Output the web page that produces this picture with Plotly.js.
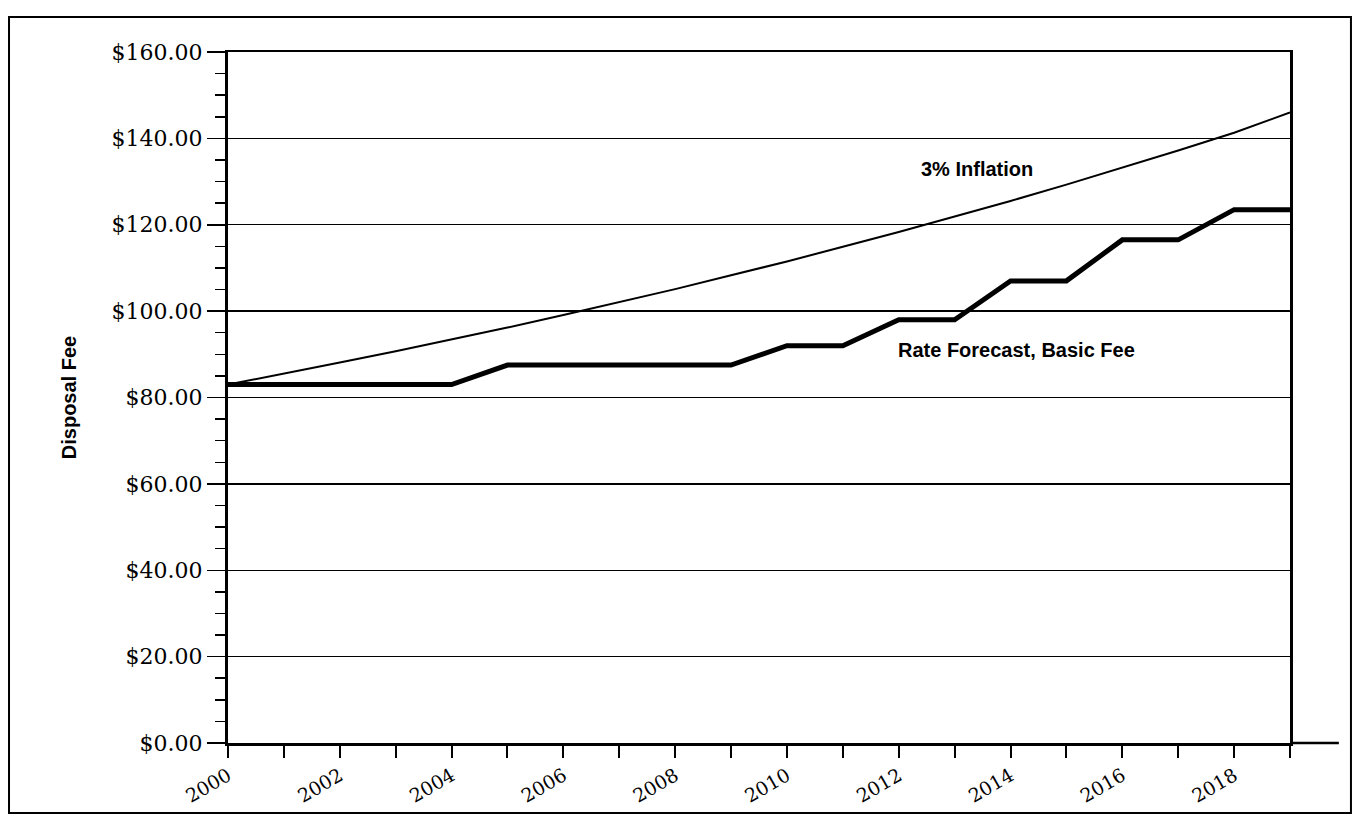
<!DOCTYPE html>
<html>
<head>
<meta charset="utf-8">
<script src="https://cdn.plot.ly/plotly-3.0.1.min.js"></script>
<style>html,body{margin:0;padding:0;background:#fff;}#chart{width:1364px;height:817px;}</style>
</head>
<body>
<div id="chart"></div>
<script>
const years = [2000,2001,2002,2003,2004,2005,2006,2007,2008,2009,2010,2011,2012,2013,2014,2015,2016,2017,2018,2019];
const rateForecast = [83,83,83,83,83,87.5,87.5,87.5,87.5,87.5,92,92,98,98,107,107,116.5,116.5,123.5,123.5];
const inflation3 = [83,85.5,88.1,90.7,93.4,96.2,99.1,102.1,105.1,108.3,111.5,114.9,118.3,121.9,125.5,129.3,133.2,137.2,141.3,146.0];
const yTickVals = [0,20,40,60,80,100,120,140,160];
const yTickText = ['$0.00','$20.00','$40.00','$60.00','$80.00','$100.00','$120.00','$140.00','$160.00'];
const xTickVals = [2000,2002,2004,2006,2008,2010,2012,2014,2016,2018];

const traces = [
  {x: years, y: inflation3, mode: 'lines', line: {color: '#000', width: 2}, name: '3% Inflation', hoverinfo: 'x+y'},
  {x: years, y: rateForecast, mode: 'lines', line: {color: '#000', width: 5}, name: 'Rate Forecast, Basic Fee', hoverinfo: 'x+y'}
];

const yTickFont = {family: 'DejaVu Serif, serif', size: 22, color: '#000'};
const xTickFont = {family: 'DejaVu Serif, serif', size: 19, color: '#000'};
const labelFont = {family: 'Liberation Sans, Arial, sans-serif', size: 20, color: '#000', weight: 'bold'};

const layout = {
  width: 1364, height: 817,
  margin: {l: 228, r: 74, t: 52, b: 74},
  paper_bgcolor: '#fff', plot_bgcolor: '#fff',
  showlegend: false,
  xaxis: {
    range: [2000, 2019], tickvals: xTickVals, ticktext: xTickVals.map(String),
    ticks: 'outside', ticklen: 12, tickwidth: 2, tickcolor: '#000',
    minor: {dtick: 1, tick0: 2000, ticks: 'outside', ticklen: 12, tickwidth: 2, tickcolor: '#000', showgrid: false},
    tickangle: -30, tickfont: xTickFont, showgrid: false, zeroline: false,
    showline: true, linecolor: '#000', linewidth: 2.5, mirror: true
  },
  yaxis: {
    range: [0, 160], tickvals: yTickVals, ticktext: yTickText,
    ticks: 'outside', ticklen: 18, tickwidth: 1.5, tickcolor: '#000',
    minor: {dtick: 5, tick0: 0, ticks: 'outside', ticklen: 10, tickwidth: 1.5, tickcolor: '#000', showgrid: false},
    tickfont: yTickFont, showgrid: true, gridcolor: '#000', gridwidth: 1.3, zeroline: false,
    showline: true, linecolor: '#000', linewidth: 3, mirror: true,
    title: {text: 'Disposal Fee', font: labelFont, standoff: 30}
  },
  annotations: [
    {x: 2013.4, y: 133, xref: 'x', yref: 'y', text: '3% Inflation', showarrow: false, font: labelFont},
    {x: 2014.1, y: 91, xref: 'x', yref: 'y', text: 'Rate Forecast, Basic Fee', showarrow: false, font: labelFont}
  ],
  shapes: [
    {type: 'rect', xref: 'paper', yref: 'paper', x0: -0.2062, x1: 1.0574, y0: -0.1013, y1: 1.0507, line: {color: '#000', width: 2}},
    {type: 'line', xref: 'paper', yref: 'paper', x0: 1, x1: 1.046, y0: 0, y1: 0, line: {color: '#000', width: 2.5}}
  ]
};

Plotly.newPlot('chart', traces, layout, {displayModeBar: false, staticPlot: true});
</script>
</body>
</html>
